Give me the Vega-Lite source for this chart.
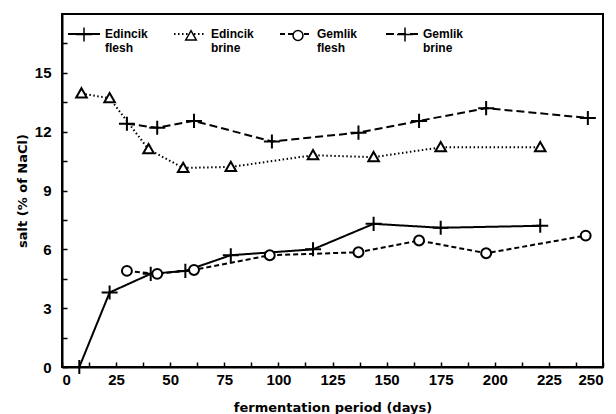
{
  "$schema": "https://vega.github.io/schema/vega-lite/v6.json",
  "width": 541,
  "height": 353,
  "autosize": {"type": "none"},
  "padding": {"left": 62, "top": 14, "right": 13, "bottom": 47},
  "background": "white",
  "config": {
    "view": {"stroke": "black", "strokeWidth": 2},
    "font": "Liberation Sans",
    "axis": {
      "grid": false,
      "domainColor": "black",
      "domainWidth": 2,
      "tickColor": "black",
      "tickWidth": 1.5,
      "tickSize": -5,
      "labelColor": "black",
      "labelFont": "Liberation Sans",
      "labelFontSize": 15,
      "labelFontWeight": "bold",
      "titleColor": "black",
      "titleFont": "DejaVu Sans",
      "titleFontSize": 13,
      "titleFontWeight": "bold"
    },
    "legend": {
      "orient": "none",
      "direction": "horizontal",
      "title": null,
      "labelFont": "Liberation Sans",
      "labelFontSize": 12,
      "labelFontWeight": "bold",
      "labelColor": "black",
      "symbolSize": 1024,
      "labelOffset": 4,
      "columns": 4,
      "gridAlign": "all",
      "legendX": 5,
      "legendY": 3
    }
  },
  "data": {
    "values": [
      {"series": "Edincik flesh", "day": 8, "salt": 0},
      {"series": "Edincik flesh", "day": 22, "salt": 3.8},
      {"series": "Edincik flesh", "day": 41, "salt": 4.75},
      {"series": "Edincik flesh", "day": 57, "salt": 4.9},
      {"series": "Edincik flesh", "day": 78, "salt": 5.7},
      {"series": "Edincik flesh", "day": 116, "salt": 6.0},
      {"series": "Edincik flesh", "day": 144, "salt": 7.3},
      {"series": "Edincik flesh", "day": 175, "salt": 7.1},
      {"series": "Edincik flesh", "day": 221, "salt": 7.2},
      {"series": "Edincik brine", "day": 9, "salt": 13.95},
      {"series": "Edincik brine", "day": 22, "salt": 13.7},
      {"series": "Edincik brine", "day": 40, "salt": 11.1},
      {"series": "Edincik brine", "day": 56, "salt": 10.15},
      {"series": "Edincik brine", "day": 78, "salt": 10.2},
      {"series": "Edincik brine", "day": 116, "salt": 10.8},
      {"series": "Edincik brine", "day": 144, "salt": 10.7},
      {"series": "Edincik brine", "day": 175, "salt": 11.2},
      {"series": "Edincik brine", "day": 221, "salt": 11.2},
      {"series": "Gemlik flesh", "day": 30, "salt": 4.9},
      {"series": "Gemlik flesh", "day": 44, "salt": 4.75},
      {"series": "Gemlik flesh", "day": 61, "salt": 4.95},
      {"series": "Gemlik flesh", "day": 96, "salt": 5.7},
      {"series": "Gemlik flesh", "day": 137, "salt": 5.85},
      {"series": "Gemlik flesh", "day": 165, "salt": 6.45},
      {"series": "Gemlik flesh", "day": 196, "salt": 5.8},
      {"series": "Gemlik flesh", "day": 242, "salt": 6.7},
      {"series": "Gemlik brine", "day": 30, "salt": 12.4},
      {"series": "Gemlik brine", "day": 44, "salt": 12.2},
      {"series": "Gemlik brine", "day": 61, "salt": 12.55},
      {"series": "Gemlik brine", "day": 97, "salt": 11.5},
      {"series": "Gemlik brine", "day": 137, "salt": 11.95},
      {"series": "Gemlik brine", "day": 165, "salt": 12.55},
      {"series": "Gemlik brine", "day": 196, "salt": 13.2},
      {"series": "Gemlik brine", "day": 243, "salt": 12.7}
    ]
  },
  "encoding": {
    "x": {
      "field": "day", "type": "quantitative",
      "scale": {"domain": [0, 250], "nice": false},
      "axis": {
        "title": "fermentation period (days)",
        "values": [0, 12.5, 25, 37.5, 50, 62.5, 75, 87.5, 100, 112.5, 125, 137.5, 150, 162.5, 175, 187.5, 200, 212.5, 225, 237.5, 250],
        "labelExpr": "datum.value % 25 === 0 ? datum.label : ''",
        "labelPadding": 10,
        "titleY": 40,
        "titleBaseline": "middle"
      }
    },
    "y": {
      "field": "salt", "type": "quantitative",
      "scale": {"domain": [0, 18], "nice": false},
      "axis": {
        "title": "salt (% of NaCl)",
        "values": [0, 1.5, 3, 4.5, 6, 7.5, 9, 10.5, 12, 13.5, 15, 16.5],
        "labelExpr": "datum.value % 3 === 0 ? datum.label : ''",
        "labelPadding": 16,
        "titleX": -40,
        "titleBaseline": "middle"
      }
    }
  },
  "layer": [
    {
      "mark": {"type": "line", "color": "black", "strokeWidth": 2},
      "encoding": {
        "strokeDash": {
          "field": "series", "type": "nominal",
          "scale": {
            "domain": ["Edincik flesh", "Edincik brine", "Gemlik flesh", "Gemlik brine"],
            "range": [[1, 0], [1.5, 2.5], [5, 3], [8, 4]]
          },
          "legend": {
            "symbolType": "stroke",
            "symbolStrokeColor": "black",
            "symbolStrokeWidth": 2,
            "columnPadding": 22,
            "labelExpr": "split(datum.label, ' ')"
          }
        }
      }
    },
    {
      "mark": {"type": "point", "filled": true, "fill": "white", "stroke": "black", "strokeWidth": 2, "size": 1024, "opacity": 1},
      "encoding": {
        "shape": {
          "field": "series", "type": "nominal",
          "sort": ["Edincik flesh", "Edincik brine", "Gemlik flesh", "Gemlik brine"],
          "scale": {
            "range": [
              "M-0.5,0H0.5M0,-0.44V0.44",
              "M0,-0.33L0.33,0.25L-0.33,0.25Z",
              "M0.31,0A0.31,0.31 0 1,1 -0.31,0A0.31,0.31 0 1,1 0.31,0Z",
              "M-0.5,0H0.5M0,-0.44V0.44"
            ]
          },
          "legend": {
            "labelExpr": "''",
            "columnPadding": 69,
            "encode": {
              "symbols": {
                "update": {
                  "fill": {"value": "white"},
                  "stroke": {"value": "black"},
                  "strokeWidth": {"value": 2},
                  "opacity": {"value": 1}
                }
              }
            }
          }
        }
      }
    }
  ]
}
